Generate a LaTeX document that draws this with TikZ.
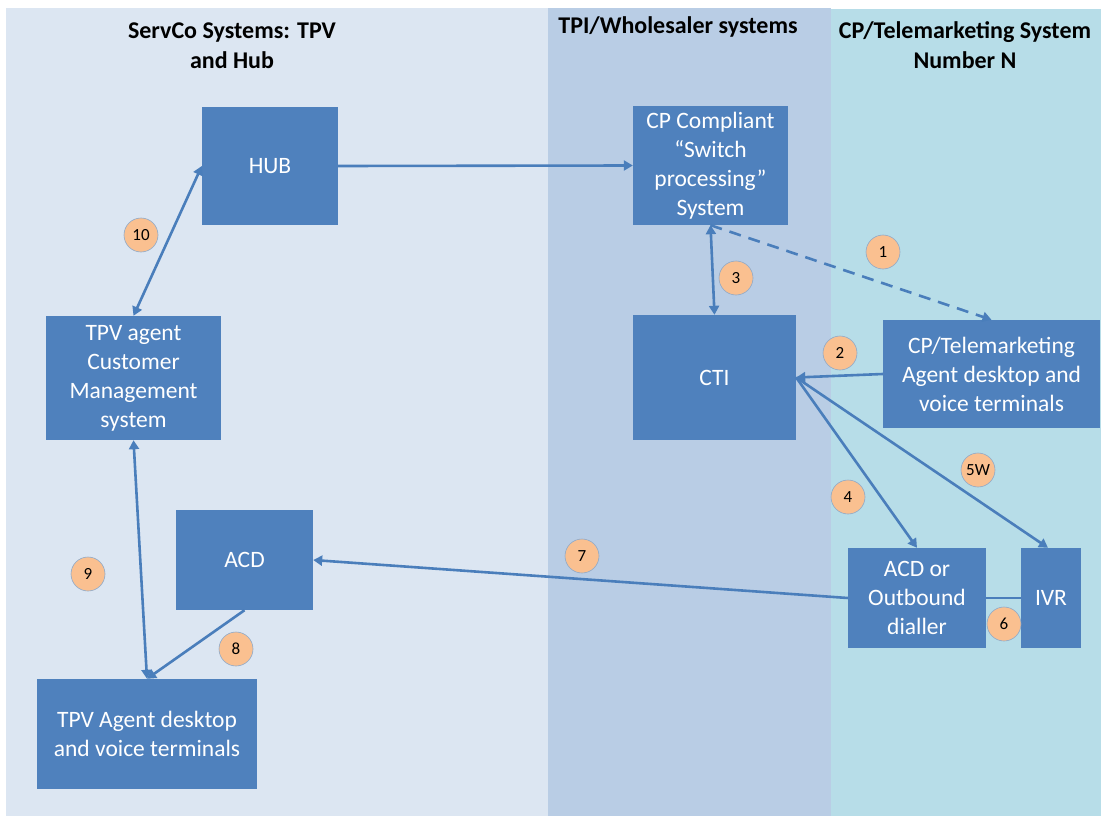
\documentclass[tikz,border=0pt]{standalone}
\usepackage{fontspec}
\setmainfont{Carlito}
\usetikzlibrary{arrows.meta}
\definecolor{panelA}{HTML}{DCE6F2}
\definecolor{panelB}{HTML}{B9CDE5}
\definecolor{panelC}{HTML}{B7DDE8}
\definecolor{boxblue}{HTML}{4F81BD}
\definecolor{linkblue}{HTML}{4A7EBB}
\definecolor{badge}{HTML}{FAC090}
\definecolor{badgeline}{HTML}{8EA9C9}
\tikzset{
  sysbox/.style={rectangle, fill=boxblue, draw=none, text=white, align=center,
    font=\fontsize{23.5}{29}\selectfont, inner sep=0pt},
  badgenode/.style={circle, fill=badge, draw=badgeline, line width=0.6pt,
    minimum size=34pt, inner sep=0pt, font=\fontsize{17}{18}\selectfont, text=black},
  header/.style={align=center, font=\fontsize{24}{30}\selectfont\bfseries, text=black, inner sep=0pt},
  link/.style={draw=linkblue, line width=2.6pt},
  tip/.style={-{Triangle[width=10pt,length=9pt]}},
  tips/.style={{Triangle[width=10pt,length=9pt]}-{Triangle[width=10pt,length=9pt]}}
}
\begin{document}
\begin{tikzpicture}[x=1pt,y=-1pt]
\useasboundingbox (0,0) rectangle (1101,816);
\fill[white] (0,0) rectangle (1101,816);
% panels
\fill[panelA] (6,8) rectangle (548,816);
\fill[panelB] (548,8) rectangle (831,816);
\fill[panelC] (831,9) rectangle (1101,816);
% headers
\node[header] (h1) at (232,46) {ServCo Systems: TPV\\and Hub};
\node[header] (h2) at (678,27) {TPI/Wholesaler systems};
\node[header] (h3) at (965,45) {CP/Telemarketing System\\Number N};
% boxes
\node[sysbox, minimum width=136pt, minimum height=118pt] (hub) at (270,166) {HUB};
\node[sysbox, minimum width=155pt, minimum height=119pt] (cpc) at (710.5,165.5) {CP Compliant\\\textquotedblleft Switch\\processing\textquotedblright\\System};
\node[sysbox, minimum width=163pt, minimum height=125pt] (cti) at (714.5,377.5) {CTI};
\node[sysbox, minimum width=217pt, minimum height=108pt] (cpt) at (991.5,374) {CP/Telemarketing\\Agent desktop and\\voice terminals};
\node[sysbox, minimum width=175pt, minimum height=124pt] (cms) at (133.5,378) {TPV agent\\Customer\\Management\\system};
\node[sysbox, minimum width=137pt, minimum height=100pt] (acd) at (244.5,560) {ACD};
\node[sysbox, minimum width=138pt, minimum height=100pt] (acdo) at (917,598) {ACD or\\Outbound\\dialler};
\node[sysbox, minimum width=60pt, minimum height=100pt] (ivr) at (1051,598) {IVR};
\node[sysbox, minimum width=220pt, minimum height=110pt] (tpvd) at (147,734) {TPV Agent desktop\\and voice terminals};
% connectors
\draw[link, tip] (hub.east) -- (cpc.west);
\draw[link, tips] (cpc.south) -- (cti.north);
\draw[link, tip, dash pattern=on 12pt off 8pt] (cpc.south) -- (cpt.north);
\draw[link, tip] (cpt.west) -- (cti.east);
\draw[link, tip] (cti.east) -- (acdo.north);
\draw[link, tip] (cti.east) -- ([xshift=-3pt]ivr.north);
\draw[link] (acdo.east) -- (ivr.west);
\draw[link, tip] (acdo.west) -- (acd.east);
\draw[link, tip] (acd.south) -- (tpvd.north);
\draw[link, tips] (cms.south) -- (tpvd.north);
\draw[link, tips] (hub.west) -- (cms.north);
% badges
\node[badgenode] (b1) at (883,252) {1};
\node[badgenode] (b2) at (840,353) {2};
\node[badgenode] (b3) at (736,278) {3};
\node[badgenode] (b4) at (848,497) {4};
\node[badgenode] (b5) at (978,470) {5W};
\node[badgenode] (b6) at (1004,624) {6};
\node[badgenode] (b7) at (582,556) {7};
\node[badgenode] (b8) at (236,649) {8};
\node[badgenode] (b9) at (88,574) {9};
\node[badgenode] (b10) at (141,235) {10};
\end{tikzpicture}
\end{document}
